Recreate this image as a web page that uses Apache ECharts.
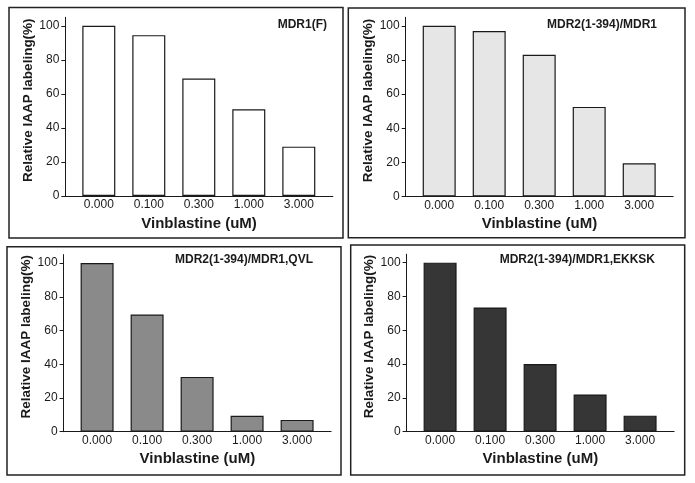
<!DOCTYPE html>
<html>
<head>
<meta charset="utf-8">
<script src="https://cdn.jsdelivr.net/npm/echarts@6/dist/echarts.min.js"></script>
<style>
html,body{margin:0;padding:0;background:#fff;}
#c{width:695px;height:483px;}
</style>
</head>
<body>
<div id="c"></div>
<script>
// ---- data ----
const categories = ['0.000', '0.100', '0.300', '1.000', '3.000'];
const panelTitles = ['MDR1(F)', 'MDR2(1-394)/MDR1', 'MDR2(1-394)/MDR1,QVL', 'MDR2(1-394)/MDR1,EKKSK'];
const mdr1F = [100, 94.5, 69, 51, 29];
const mdr2Mdr1 = [100, 97, 83, 52.5, 19.5];
const mdr2Mdr1QVL = [100, 69.5, 32.5, 9.5, 7];
const mdr2Mdr1EKKSK = [100, 73.5, 40, 22, 9.5];
const yTicks = [0, 20, 40, 60, 80, 100];
const xTitle = 'Vinblastine (uM)';
const yTitle = 'Relative IAAP labeling(%)';

// ---- layout / style ----
const seriesValues = [mdr1F, mdr2Mdr1, mdr2Mdr1QVL, mdr2Mdr1EKKSK];
const barColors = ['#ffffff', '#e6e6e6', '#8a8a8a', '#363636'];
const grids = [
  {left: 65.3, top: 17.3, width: 267.5, height: 178.7},
  {left: 405.7, top: 17.3, width: 267.5, height: 179.2},
  {left: 63.6, top: 254.6, width: 267.5, height: 177.1},
  {left: 406.6, top: 254.2, width: 267.5, height: 177.5}
];
const titlePos = [[327, 25], [657, 25], [313, 260], [655, 260]];
const borders = [
  [9, 7.5, 334, 230.5],
  [348.3, 8, 336.7, 229.7],
  [7, 246.7, 334, 228.3],
  [350.7, 245, 334, 230]
];
const FONT = '"Liberation Sans", Arial, Helvetica, sans-serif';
const ink = '#1a1a1a';

const chart = echarts.init(document.getElementById('c'), null, {renderer: 'canvas'});

const xAxes = [], yAxes = [], series = [], graphics = [];
grids.forEach((g, i) => {
  xAxes.push({
    type: 'value', gridIndex: i, min: -0.67, max: 4.68,
    axisLine: {show: true, onZero: false, lineStyle: {color: ink, width: 1}},
    axisTick: {show: false},
    splitLine: {show: false},
    axisLabel: {
      customValues: categories.map((c, k) => k),
      formatter: v => categories[Math.round(v)] || '',
      color: ink, fontFamily: FONT, fontSize: 12, margin: 3
    },
    name: xTitle, nameLocation: 'middle', nameGap: 20,
    nameTextStyle: {color: ink, fontFamily: FONT, fontSize: 15, fontWeight: 'bold'}
  });
  yAxes.push({
    type: 'value', gridIndex: i, min: 0, max: 105, interval: 20,
    axisLine: {show: true, onZero: false, lineStyle: {color: ink, width: 1}},
    axisTick: {show: true, customValues: yTicks, length: 4, inside: false, lineStyle: {color: ink, width: 1}},
    splitLine: {show: false},
    axisLabel: {customValues: yTicks, color: ink, fontFamily: FONT, fontSize: 12, margin: 6},
    name: yTitle, nameLocation: 'middle', nameGap: 29,
    nameTextStyle: {color: ink, fontFamily: FONT, fontSize: 13.5, fontWeight: 'bold', padding: [0, 0, 0, 13]}
  });
  series.push({
    type: 'bar', xAxisIndex: i, yAxisIndex: i,
    barWidth: 33,
    data: seriesValues[i].map((v, k) => [k, v]),
    itemStyle: {color: barColors[i], borderColor: ink, borderWidth: 1.2},
    silent: true, animation: false
  });
  graphics.push({
    type: 'rect', shape: {x: borders[i][0], y: borders[i][1], width: borders[i][2], height: borders[i][3]},
    style: {fill: 'none', stroke: '#222', lineWidth: 1.5}, silent: true
  });
  graphics.push({
    type: 'text', x: titlePos[i][0], y: titlePos[i][1],
    style: {text: panelTitles[i], align: 'right', verticalAlign: 'middle', fill: ink,
      font: 'bold 12px ' + FONT}, silent: true
  });
});

chart.setOption({
  backgroundColor: '#ffffff',
  animation: false,
  grid: grids.map(g => Object.assign({containLabel: false}, g)),
  xAxis: xAxes,
  yAxis: yAxes,
  series: series,
  graphic: graphics
});
</script>
</body>
</html>
